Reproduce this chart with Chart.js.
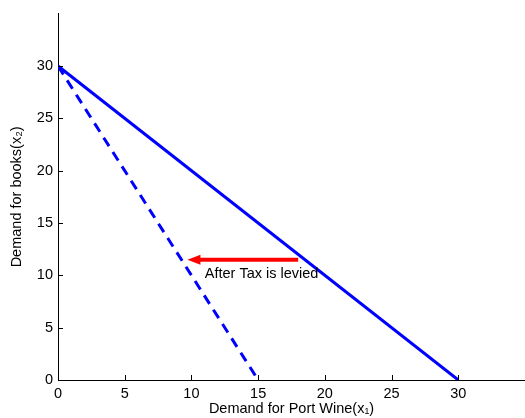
<!DOCTYPE html>
<html>
<head>
<meta charset="utf-8">
<script src="https://cdn.jsdelivr.net/npm/chart.js@4"></script>
<style>
  html, body { margin: 0; padding: 0; background: #fff; }
  #wrap { width: 525px; height: 418px; position: relative; }
</style>
</head>
<body>
<div id="wrap"><canvas id="budget"></canvas></div>
<script>
// Budget lines before and after the tax (MATLAB style plot)

const xTicks = [0, 5, 10, 15, 20, 25, 30];
const yTicks = [0, 5, 10, 15, 20, 25, 30];

const beforeTax = [{ x: 0, y: 30 }, { x: 30, y: 0 }];
const afterTax = [{ x: 0, y: 30 }, { x: 15, y: 0 }];
const shiftArrow = [{ x: 18, y: 11.5 }, { x: 9.7, y: 11.5 }];
const noteText = 'After Tax is levied';
const notePos = { x: 11, y: 10.1 };

const FONT = 'Arial, "Liberation Sans", Helvetica, sans-serif';
const FSIZE = 14.5;

// inward tick marks, arrow head and the note
const extras = {
    id: 'extras',
    afterDatasetsDraw(chart) {
        const ctx = chart.ctx;
        const xs = chart.scales.x, ys = chart.scales.y;
        const area = chart.chartArea;
        ctx.save();
        ctx.strokeStyle = '#000';
        ctx.lineWidth = 1;
        xTicks.forEach(v => {
            const px = Math.round(xs.getPixelForValue(v)) + 0.5;
            ctx.beginPath();
            ctx.moveTo(px, area.bottom);
            ctx.lineTo(px, area.bottom - 5);
            ctx.stroke();
        });
        yTicks.forEach(v => {
            const py = Math.round(ys.getPixelForValue(v)) + 0.5;
            ctx.beginPath();
            ctx.moveTo(area.left, py);
            ctx.lineTo(area.left + 5, py);
            ctx.stroke();
        });

        // arrow head at the end of the red line
        const p1 = shiftArrow[shiftArrow.length - 1];
        const p0 = shiftArrow[shiftArrow.length - 2];
        const tx = xs.getPixelForValue(p1.x), ty = ys.getPixelForValue(p1.y);
        const fx = xs.getPixelForValue(p0.x), fy = ys.getPixelForValue(p0.y);
        const ang = Math.atan2(ty - fy, tx - fx);
        const len = 13, half = 5;
        ctx.fillStyle = '#ff0000';
        ctx.beginPath();
        ctx.moveTo(tx, ty);
        ctx.lineTo(tx - len * Math.cos(ang) - half * Math.sin(ang), ty - len * Math.sin(ang) + half * Math.cos(ang));
        ctx.lineTo(tx - len * Math.cos(ang) + half * Math.sin(ang), ty - len * Math.sin(ang) - half * Math.cos(ang));
        ctx.closePath();
        ctx.fill();

        ctx.fillStyle = '#000';
        ctx.font = FSIZE + 'px ' + FONT;
        ctx.textBaseline = 'middle';
        ctx.textAlign = 'left';
        ctx.fillText(noteText, xs.getPixelForValue(notePos.x), ys.getPixelForValue(notePos.y));
        ctx.restore();
    }
};

new Chart(document.getElementById('budget'), {
    type: 'scatter',
    data: {
        datasets: [{
            data: beforeTax,
            showLine: true,
            borderColor: '#0000ff',
            borderWidth: 3,
            pointRadius: 0
        }, {
            data: afterTax,
            showLine: true,
            borderColor: '#0000ff',
            borderWidth: 3,
            borderDash: [10, 7],
            pointRadius: 0
        }, {
            data: shiftArrow.map((p, i) => i === shiftArrow.length - 1 ? { x: p.x + 0.6, y: p.y } : p),
            showLine: true,
            borderColor: '#ff0000',
            borderWidth: 4,
            pointRadius: 0
        }]
    },
    options: {
        responsive: true,
        maintainAspectRatio: false,
        animation: false,
        layout: { padding: { top: 12, right: 0, left: 0, bottom: 0 } },
        plugins: {
            legend: { display: false },
            tooltip: { enabled: false }
        },
        scales: {
            x: {
                type: 'linear',
                min: 0,
                max: 35,
                afterBuildTicks: s => { s.ticks = xTicks.map(v => ({ value: v })); },
                afterFit: s => { s.height = 38; },
                grid: { display: false, drawTicks: false },
                border: { display: true, color: '#000', width: 1 },
                ticks: {
                    color: '#000',
                    padding: 5,
                    maxRotation: 0,
                    font: { family: FONT, size: FSIZE }
                },
                title: {
                    display: true,
                    text: 'Demand for Port Wine(x\u2081)',
                    color: '#000',
                    padding: { top: 0, bottom: 0 },
                    font: { family: FONT, size: FSIZE }
                }
            },
            y: {
                type: 'linear',
                min: 0,
                max: 35,
                afterBuildTicks: s => { s.ticks = yTicks.map(v => ({ value: v })); },
                afterFit: s => { s.width = 58; },
                grid: { display: false, drawTicks: false },
                border: { display: true, color: '#000', width: 1 },
                ticks: {
                    color: '#000',
                    padding: 5,
                    font: { family: FONT, size: FSIZE }
                },
                title: {
                    display: true,
                    text: 'Demand for books(x\u2082)',
                    color: '#000',
                    padding: { top: 8, bottom: 4 },
                    font: { family: FONT, size: FSIZE }
                }
            }
        }
    },
    plugins: [extras]
});
</script>
</body>
</html>
